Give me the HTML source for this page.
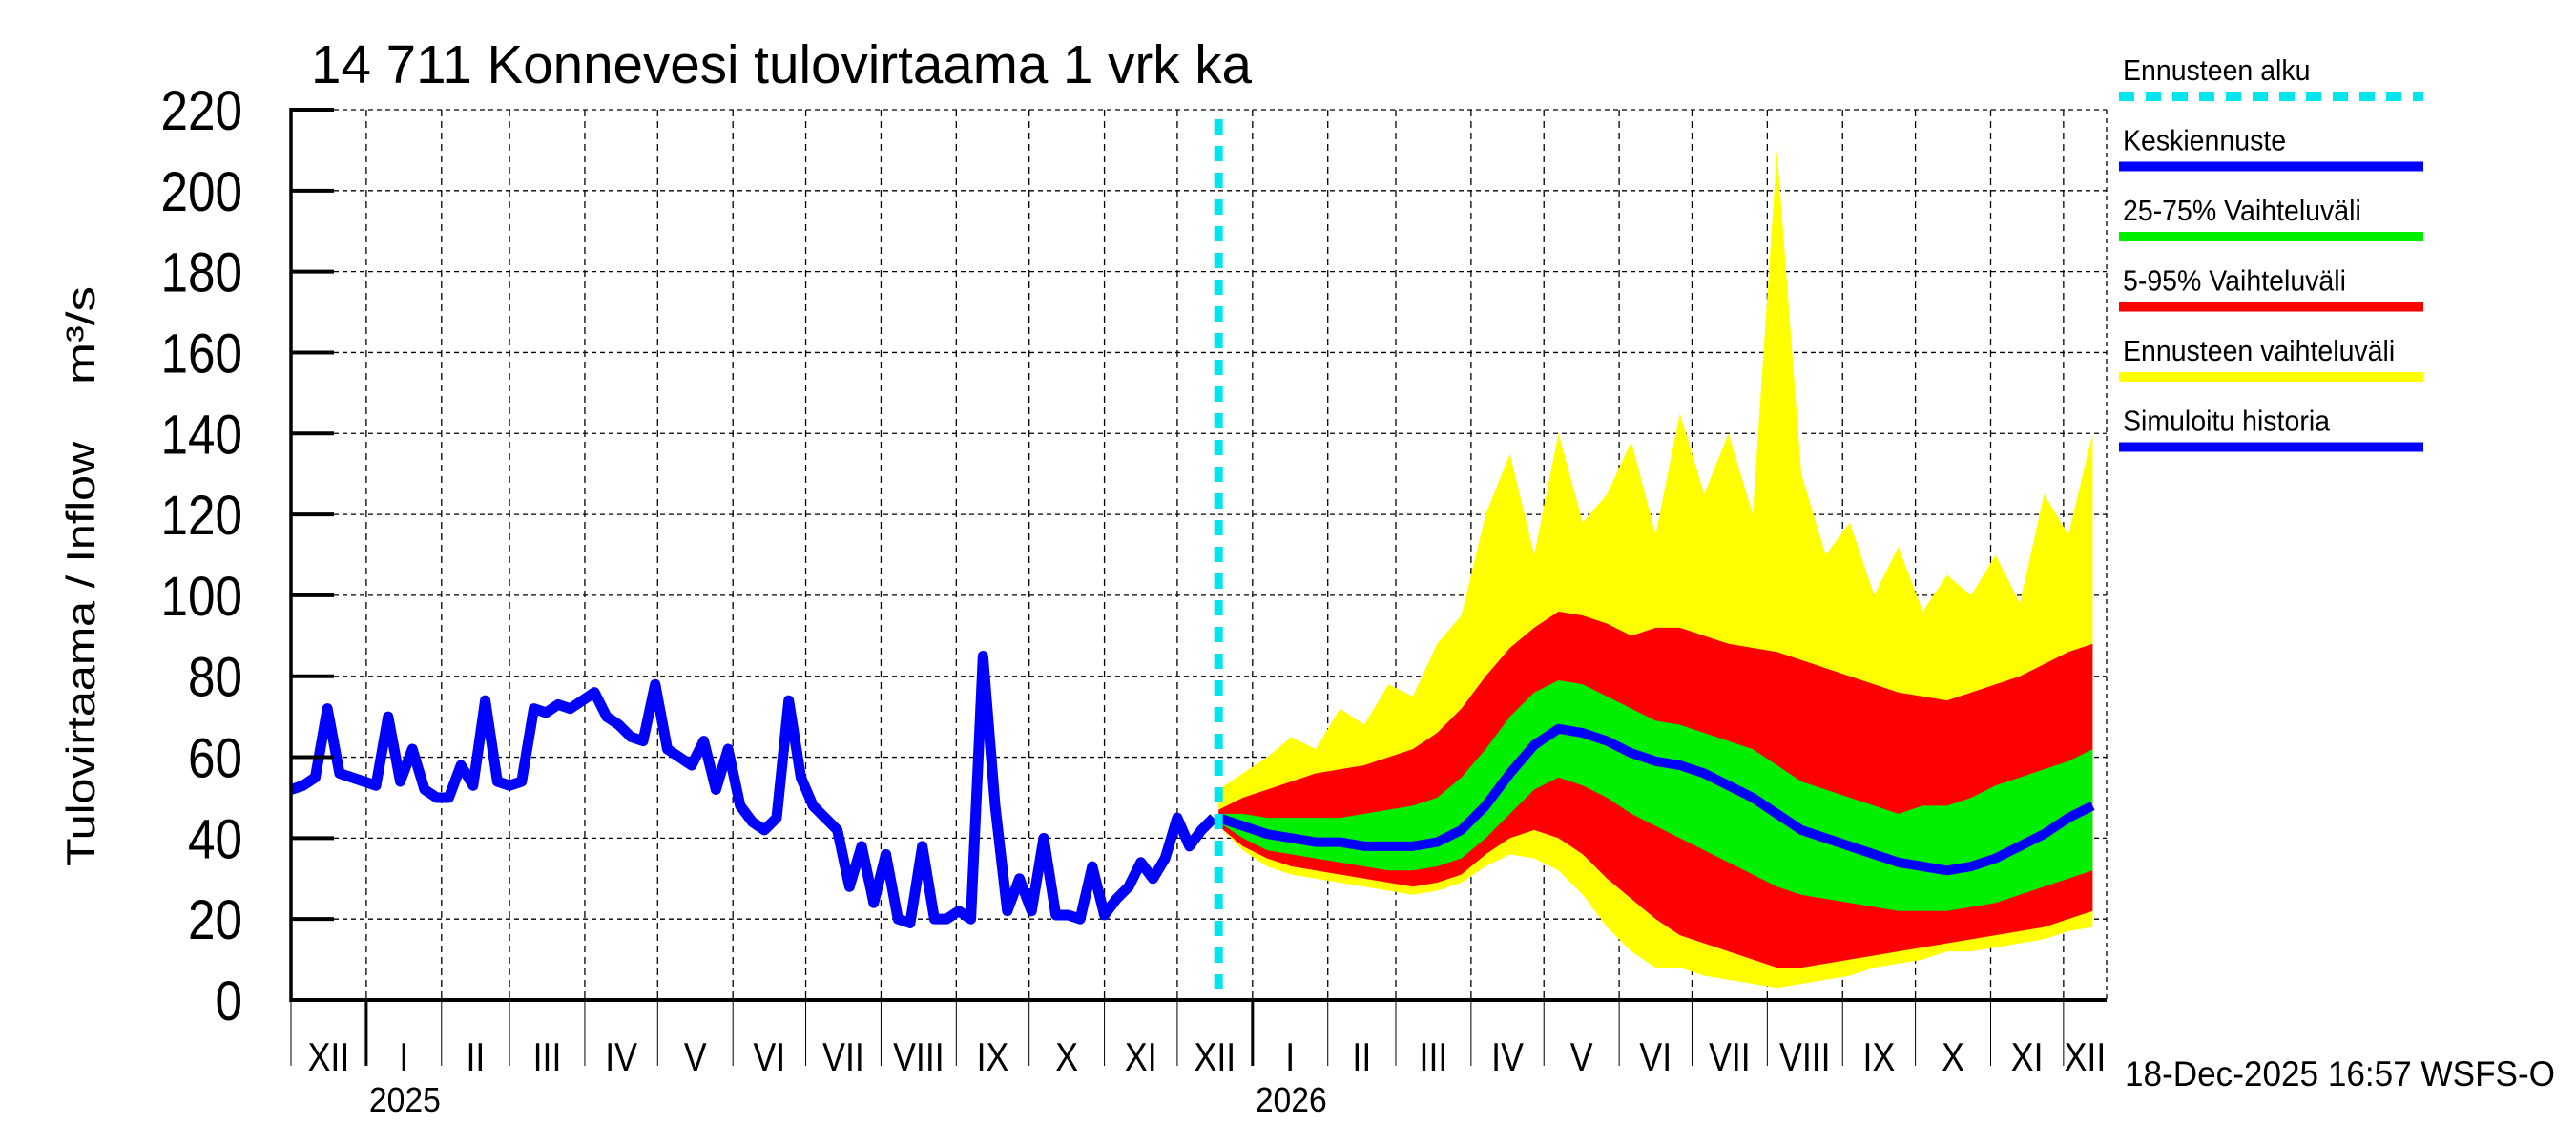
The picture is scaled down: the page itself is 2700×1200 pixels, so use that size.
<!DOCTYPE html>
<html><head><meta charset="utf-8"><style>
html,body{margin:0;padding:0;background:#fff;}
svg{display:block;font-family:"Liberation Sans",sans-serif;}
</style></head><body>
<svg id="chart" width="2700" height="1200" viewBox="0 0 2700 1200" xmlns="http://www.w3.org/2000/svg">
<rect x="0" y="0" width="2700" height="1200" fill="#fff"/>
<text x="326" y="87" font-size="57" textLength="986" lengthAdjust="spacingAndGlyphs">14 711 Konnevesi tulovirtaama 1 vrk ka</text>
<g id="grid"></g>
<g id="series"></g>
<g id="axes"></g>
<text transform="translate(99,908) rotate(-90)" font-size="42" textLength="445" lengthAdjust="spacingAndGlyphs">Tulovirtaama / Inflow</text>
<text transform="translate(99,403) rotate(-90)" font-size="42" textLength="103" lengthAdjust="spacingAndGlyphs">m³/s</text>
<text x="2227" y="1138" font-size="37" textLength="451" lengthAdjust="spacingAndGlyphs">18-Dec-2025 16:57 WSFS-O</text>
<g id="legend"></g>
</svg>
<script>
// ---- data ----
const yTicks = [0,20,40,60,80,100,120,140,160,180,200,220];
const monthLabels = ["XII","I","II","III","IV","V","VI","VII","VIII","IX","X","XI","XII","I","II","III","IV","V","VI","VII","VIII","IX","X","XI","XII"];
const monthLengths = [31,31,28,31,30,31,30,31,31,30,31,30,31,31,28,31,30,31,30,31,31,30,31,30,31];
const yearLabels = ["2025","2026"];
const histStep = 5;
const histValues = [52,53,55,72,56,55,54,53,70,54,62,52,50,50,58,53,74,54,53,54,72,71,73,72,74,76,70,68,65,64,78,62,60,58,64,52,62,48,44,42,45,74,55,48,45,42,28,38,24,36,20,19,38,20,20,22,20,85,48,22,30,22,40,21,21,20,33,21,25,28,34,30,35,45,38,42,45];
const forecastStartDay = 382;
const fcStep = 10;
const fcMean = [45,43,41,40,39,39,38,38,38,39,42,48,56,63,67,66,64,61,59,58,56,53,50,46,42,40,38,36,34,33,32,33,35,38,41,45,48];
const fcP75 = [46,46,45,45,45,45,46,47,48,50,55,62,70,76,79,78,75,72,69,68,66,64,62,58,54,52,50,48,46,48,48,50,53,55,57,59,62];
const fcP25 = [44,40,37,36,35,34,33,32,32,33,35,40,46,52,55,53,50,46,43,40,37,34,31,28,26,25,24,23,22,22,22,23,24,26,28,30,32];
const fcP95 = [47,50,52,54,56,57,58,60,62,66,72,80,87,92,96,95,93,90,92,92,90,88,87,86,84,82,80,78,76,75,74,76,78,80,83,86,88];
const fcP5 = [43,38,35,33,32,31,30,29,28,29,31,36,40,42,40,36,30,25,20,16,14,12,10,8,8,9,10,11,12,13,14,15,16,17,18,20,22];
const fcMax = [52,56,60,65,62,72,68,78,75,88,95,120,135,110,140,118,125,138,115,145,125,140,120,210,130,110,118,100,112,96,105,100,110,98,125,115,140];
const fcMin = [43,37,33,31,30,29,28,27,26,27,29,33,36,35,32,26,18,12,8,8,6,5,4,3,4,5,6,8,9,10,12,12,13,14,15,17,18];
const legendLabels = ["Ennusteen alku","Keskiennuste","25-75% Vaihteluväli","5-95% Vaihteluväli","Ennusteen vaihteluväli","Simuloitu historia"];
const legendColors = ["#00e5ee","#0000ff","#00ee00","#ff0000","#ffff00","#0000ff"];

// ---- scales ----
const X0=305, X1=2208, Y0=1048, Y1=115, PXDAY=2.545;
const xDay = d => X0 + d*PXDAY;
const yVal = v => Y0 - (v/220)*(Y0-Y1);
const NS="http://www.w3.org/2000/svg";
function mk(tag, parent){const e=document.createElementNS(NS,tag);parent.appendChild(e);return e;}
const grid=document.getElementById('grid'), series=document.getElementById('series'), axes=document.getElementById('axes'), legend=document.getElementById('legend');

yTicks.forEach(v=>{
  const y=yVal(v);
  if(v>0){const g=mk('line',grid);
    
    
    g.setAttribute('x1',X0);g.setAttribute('x2',X1);g.setAttribute('y1',y);g.setAttribute('y2',y);
    g.setAttribute('stroke','#000');g.setAttribute('stroke-width','1.3');g.setAttribute('stroke-dasharray','5,4');}
  const t=mk('line',axes);
  
  
  t.setAttribute('x1',X0);t.setAttribute('x2',X0+45);t.setAttribute('y1',y);t.setAttribute('y2',y);
  t.setAttribute('stroke','#000');t.setAttribute('stroke-width','4');
  const l=mk('text',axes);
  
  
  l.setAttribute('x',254);l.setAttribute('y',y+21);l.setAttribute('text-anchor','end');
  l.setAttribute('font-size','58');l.textContent=String(v);
  l.setAttribute('textLength',String(v).length*28.5);l.setAttribute('lengthAdjust','spacingAndGlyphs');
});

let day=0, yi=0;
monthLabels.forEach((m,i)=>{
  const xs=xDay(day), xe=Math.min(xDay(day+monthLengths[i]),X1);
  if(i>0){
    const g=mk('line',grid);
    
    
    g.setAttribute('x1',xs);g.setAttribute('x2',xs);g.setAttribute('y1',Y1);g.setAttribute('y2',Y0);
    g.setAttribute('stroke','#000');g.setAttribute('stroke-width','1.3');g.setAttribute('stroke-dasharray','7,5');
  }
  const isYear = (m==="I");
  const t=mk('line',axes);
  
  
  t.setAttribute('x1',xs);t.setAttribute('x2',xs);t.setAttribute('y1',Y0);t.setAttribute('y2',1117);
  t.setAttribute('stroke','#000');t.setAttribute('stroke-width',isYear?'3':'1');
  const l=mk('text',axes);
  
  
  l.setAttribute('x',(xs+xe)/2);l.setAttribute('y',1122);l.setAttribute('text-anchor','middle');
  l.setAttribute('font-size','42');l.setAttribute('transform-origin',((xs+xe)/2)+' 1122');l.setAttribute('transform','scale(0.85,1)');
  l.textContent=m;
  if(isYear){
    const yl=mk('text',axes);
    
    
    yl.setAttribute('x',xs+3);yl.setAttribute('y',1165);yl.setAttribute('font-size','36');
    yl.setAttribute('textLength','75');yl.setAttribute('lengthAdjust','spacingAndGlyphs');
    yl.textContent=yearLabels[yi++];
  }
  day+=monthLengths[i];
});

function band(upper, lower, color, name){
  let pts=[];
  upper.forEach((v,i)=>pts.push(xDay(forecastStartDay+i*fcStep)+','+yVal(v)));
  for(let i=lower.length-1;i>=0;i--) pts.push(xDay(forecastStartDay+i*fcStep)+','+yVal(lower[i]));
  const p=mk('polygon',series);
  
  
  p.setAttribute('points',pts.join(' '));p.setAttribute('fill',color);
}
band(fcMax,fcMin,'#ffff00','forecast-range-band');
band(fcP95,fcP5,'#ff0000','band-5-95');
band(fcP75,fcP25,'#00ee00','band-25-75');

const hl=mk('polyline',series);


hl.setAttribute('points',histValues.map((v,i)=>xDay(i*histStep)+','+yVal(v)).join(' '));
hl.setAttribute('fill','none');hl.setAttribute('stroke','#0000ff');hl.setAttribute('stroke-width','11');hl.setAttribute('stroke-linejoin','round');

const ml=mk('polyline',series);


ml.setAttribute('points',fcMean.map((v,i)=>xDay(forecastStartDay+i*fcStep)+','+yVal(v)).join(' '));
ml.setAttribute('fill','none');ml.setAttribute('stroke','#0000ff');ml.setAttribute('stroke-width','10');ml.setAttribute('stroke-linejoin','round');

const fs=mk('line',series);


fs.setAttribute('x1',xDay(forecastStartDay));fs.setAttribute('x2',xDay(forecastStartDay));
fs.setAttribute('y1',Y1+10);fs.setAttribute('y2',Y0);
fs.setAttribute('stroke','#00e5ee');fs.setAttribute('stroke-width','9');fs.setAttribute('stroke-dasharray','16,12');

const ax=mk('line',axes);


ax.setAttribute('x1',X0);ax.setAttribute('x2',X0);ax.setAttribute('y1',Y1-2);ax.setAttribute('y2',Y0+2);
ax.setAttribute('stroke','#000');ax.setAttribute('stroke-width','3.5');
const bx=mk('line',axes);


bx.setAttribute('x1',X0);bx.setAttribute('x2',X1);bx.setAttribute('y1',Y0);bx.setAttribute('y2',Y0);
bx.setAttribute('stroke','#000');bx.setAttribute('stroke-width','4');
const rx=mk('line',axes);


rx.setAttribute('x1',X1);rx.setAttribute('x2',X1);rx.setAttribute('y1',Y1);rx.setAttribute('y2',Y0);
rx.setAttribute('stroke','#000');rx.setAttribute('stroke-width','1.3');rx.setAttribute('stroke-dasharray','5,4');

legendLabels.forEach((lab,i)=>{
  const ty=84+i*73.5;
  const t=mk('text',legend);
  
  
  t.setAttribute('x',2225);t.setAttribute('y',ty);t.setAttribute('font-size','31');
  t.setAttribute('transform-origin','2225 '+ty);t.setAttribute('transform','scale(0.92,1)');
  t.textContent=lab;
  const l=mk('line',legend);
  
  
  l.setAttribute('x1',2221);l.setAttribute('x2',2540);l.setAttribute('y1',ty+17);l.setAttribute('y2',ty+17);
  l.setAttribute('stroke',legendColors[i]);l.setAttribute('stroke-width','10');
  if(i===0) l.setAttribute('stroke-dasharray','16,12');
});
</script>
</body></html>
